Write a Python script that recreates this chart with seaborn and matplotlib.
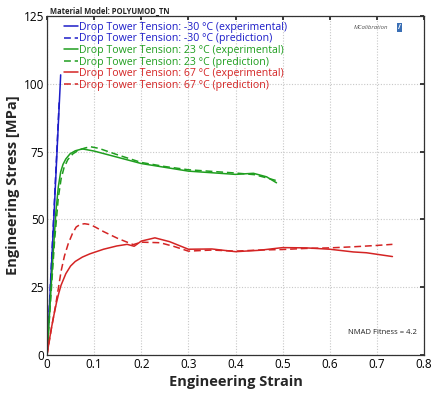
import numpy as np
import pandas as pd
import seaborn as sns
import matplotlib
matplotlib.use("Agg")
import matplotlib.pyplot as plt

# ---- data ----
blue_exp_strain = [0, 0.015, 0.029]
blue_exp_stress = [0, 52.0, 103.3]
blue_pred_strain = [0, 0.013, 0.026]
blue_pred_stress = [0, 47.0, 94.0]

green_exp_strain = [0, 0.006, 0.012, 0.019, 0.024, 0.029, 0.034, 0.04, 0.049, 0.06, 0.075, 0.1,
                    0.15, 0.2, 0.25, 0.3, 0.35, 0.4, 0.438, 0.466, 0.487]
green_exp_stress = [0, 17, 34.7, 53, 62, 67.5, 70.3, 72.3, 74.2, 75.3, 76, 75.2,
                    72.9, 70.6, 69.2, 67.8, 67.2, 66.6, 67, 65.7, 63.5]
green_pred_strain = [0, 0.008, 0.016, 0.024, 0.03, 0.036, 0.044, 0.055, 0.068, 0.08, 0.092, 0.11,
                     0.15, 0.2, 0.25, 0.3, 0.35, 0.4, 0.44, 0.46, 0.487]
green_pred_stress = [0, 21, 42, 58, 65, 69, 72, 74.2, 75.6, 76.3, 76.8, 76.2,
                     73.8, 71, 69.5, 68.3, 67.7, 67.1, 66.5, 65.6, 64.3]

red_exp_strain = [0, 0.005, 0.01, 0.015, 0.02, 0.025, 0.03, 0.04, 0.05, 0.06, 0.075, 0.091,
                  0.12, 0.148, 0.17, 0.185, 0.2, 0.229, 0.26, 0.3, 0.35, 0.4, 0.45, 0.5,
                  0.55, 0.6, 0.65, 0.678, 0.733]
red_exp_stress = [0, 5.5, 10.5, 15, 19.2, 22.8, 25.8, 30, 32.8, 34.5, 36.1, 37.3,
                  39, 40.2, 40.8, 40.1, 42, 43.2, 41.8, 39, 39.1, 38.1, 38.6, 39.6,
                  39.5, 39, 38, 37.7, 36.3]
red_pred_strain = [0, 0.01, 0.018, 0.024, 0.03, 0.037, 0.045, 0.054, 0.062, 0.071, 0.08,
                   0.091, 0.1, 0.12, 0.15, 0.183, 0.2, 0.24, 0.27, 0.3, 0.35, 0.4, 0.45,
                   0.5, 0.55, 0.6, 0.65, 0.7, 0.733]
red_pred_stress = [0, 10.5, 18, 24.5, 31, 36.5, 41, 44.8, 47.2, 48.2, 48.4,
                   48.1, 47.4, 45.5, 43, 40.7, 41.6, 41.4, 40, 38.3, 38.7, 38.3, 38.7,
                   38.9, 39.3, 39.5, 39.9, 40.4, 40.8]

labels = ["Drop Tower Tension: -30 °C (experimental)",
          "Drop Tower Tension: -30 °C (prediction)",
          "Drop Tower Tension: 23 °C (experimental)",
          "Drop Tower Tension: 23 °C (prediction)",
          "Drop Tower Tension: 67 °C (experimental)",
          "Drop Tower Tension: 67 °C (prediction)"]

x_ticks = [0, 0.1, 0.2, 0.3, 0.4, 0.5, 0.6, 0.7, 0.8]
x_tick_labels = ["0", "0.1", "0.2", "0.3", "0.4", "0.5", "0.6", "0.7", "0.8"]
y_ticks = [0, 25, 50, 75, 100, 125]

BLUE = "#1c1cc8"
GREEN = "#1f9e1f"
RED = "#d42424"

sns.set_theme(style="white")
plt.rcParams['font.family'] = ['Open Sans', 'DejaVu Sans']

fig = plt.figure(figsize=(4.35, 3.95), dpi=100)
ax = fig.add_axes([47/435, 1-355/395, 377/435, 339/395])

series = [
    (blue_exp_strain, blue_exp_stress, BLUE, "-"),
    (blue_pred_strain, blue_pred_stress, BLUE, "--"),
    (green_exp_strain, green_exp_stress, GREEN, "-"),
    (green_pred_strain, green_pred_stress, GREEN, "--"),
    (red_exp_strain, red_exp_stress, RED, "-"),
    (red_pred_strain, red_pred_stress, RED, "--"),
]
for (xs, ys, c, ls), lab in zip(series, labels):
    df = pd.DataFrame({"strain": xs, "stress": ys})
    sns.lineplot(data=df, x="strain", y="stress", ax=ax, color=c,
                 linewidth=1.1, label=lab, sort=False, estimator=None)
    ax.lines[-1].set_linestyle(ls)
    if ls == "--":
        ax.lines[-1].set_dashes([4.5, 2.5])

ax.set_xlim(0, 0.8)
ax.set_ylim(0, 125)
ax.set_xticks(x_ticks)
ax.set_xticklabels(x_tick_labels)
ax.set_yticks(y_ticks)
ax.tick_params(axis="both", direction="in", length=3, labelsize=8.5, pad=2,
               top=True, right=True, colors="#222222")
for lab in ax.get_xticklabels() + ax.get_yticklabels():
    lab.set_color("black")
ax.grid(True, color="#c8c8c8", linestyle=(0, (1, 1.5)), linewidth=0.8)
for s in ax.spines.values():
    s.set_color("#333333")
    s.set_linewidth(0.9)

ax.set_xlabel("Engineering Strain", fontsize=10.5, fontweight="bold", labelpad=3)
ax.set_ylabel("Engineering Stress [MPa]", fontsize=10.5, fontweight="bold", labelpad=3)

leg = ax.legend(loc="upper left", bbox_to_anchor=(0.035, 0.995), frameon=False,
                fontsize=7.6, handlelength=1.3, handletextpad=0.1,
                labelspacing=0.05, borderaxespad=0.0, labelcolor="linecolor")

fig.text(50/435, 1-11/395, "Material Model: POLYUMOD_TN", fontsize=5.5,
         fontweight="bold", va="center", ha="left")
ax.text(0.905, 0.965, "MCalibration", transform=ax.transAxes, fontsize=4.3,
        style="italic", color="#555555", ha="right", va="center")
ax.text(0.935, 0.965, "/", transform=ax.transAxes, fontsize=5, color="white",
        ha="center", va="center", fontweight="bold",
        bbox=dict(boxstyle="square,pad=0.15", fc="#3a6fb5", ec="none"))
ax.text(0.98, 0.065, "NMAD Fitness = 4.2", transform=ax.transAxes, fontsize=5.5,
        ha="right", va="center", color="#222222")

fig.savefig("out.png", dpi=100)
